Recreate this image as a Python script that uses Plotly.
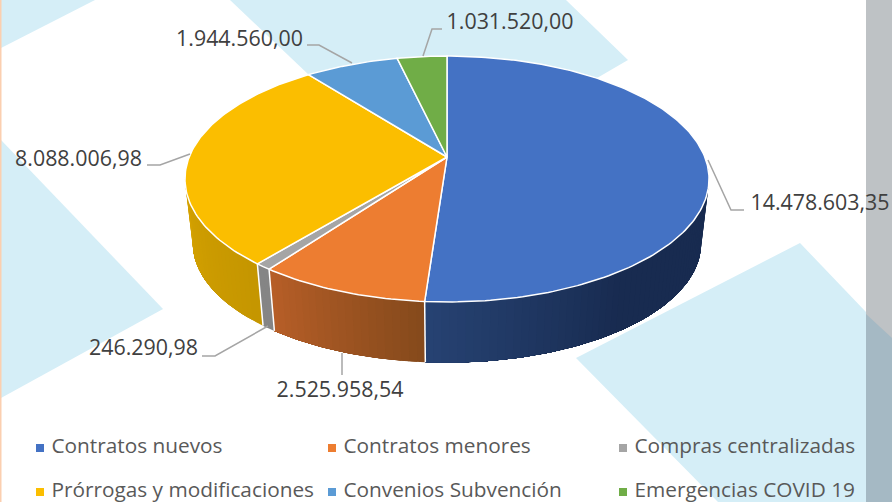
import numpy as np
import plotly.graph_objects as go

categories = ["Contratos nuevos", "Contratos menores", "Compras centralizadas",
              "Prórrogas y modificaciones", "Convenios Subvención", "Emergencias COVID 19"]
values = [14478603.35, 2525958.54, 246290.98, 8088006.98, 1944560.00, 1031520.00]
value_labels = ["14.478.603,35", "2.525.958,54", "246.290,98", "8.088.006,98", "1.944.560,00", "1.031.520,00"]
top_colors = ["#4472C4", "#ED7D31", "#A5A5A5", "#FBBE00", "#5B9BD5", "#70AD47"]
side_left = ["#274373", "#B85F28", "#858585", "#D6A300"]
side_right = ["#182B50", "#854A1C", "#858585", "#C59600"]

CX, CY, RX, RY, K = 447.0, 157.0, 257.8, 119.0, 0.179
S_BOT, CY_BOT = 0.97, 222.0
WIDTH, HEIGHT = 892, 502

def top_pt(a):
    u, v = np.sin(a), np.cos(a)
    d = 1 + K * v
    return CX + RX * u / d, CY - RY * v / d

def bot_pt(a):
    u, v = np.sin(a), np.cos(a)
    d = 1 + K * v
    return CX + S_BOT * RX * u / d, CY_BOT - S_BOT * RY * v / d

total = sum(values)
edges = np.concatenate([[0], np.cumsum(values)]) / total * 2 * np.pi
fig = go.Figure()

def poly(x, y, fill, line=None, width=0):
    fig.add_trace(go.Scatter(x=list(x), y=list(y), mode="lines", fill="toself", fillcolor=fill,
                             line=dict(color=line or fill, width=width), hoverinfo="skip", showlegend=False))

def hex_rgb(c):
    return np.array([int(c[i:i + 2], 16) for i in (1, 3, 5)], dtype=float)

# background decoration
BG = "#D5EEF7"
for pts in [[(1, 0), (95, 0), (1, 48)],
            [(230, 0), (566, 0), (628, 60), (430, 175), (330, 95)],
            [(1, 140), (163, 309), (1, 398)],
            [(576, 358), (800, 243), (866, 312), (866, 502), (718, 502)]]:
    poly([p[0] for p in pts] + [pts[0][0]], [p[1] for p in pts] + [pts[0][1]], BG)
poly([866, 892, 892, 866, 866], [0, 0, 502, 502, 0], "#BEC2C5")
poly([866, 892, 892, 866, 866], [314, 338, 502, 502, 314], "#A5B9C4")
poly([0, 1.5, 1.5, 0, 0], [0, 0, 502, 502, 0], "#FBCFB0")

# side walls: each wall is painted as overlapping layers for the shading
vis_lo, vis_hi = np.radians(92), np.radians(262)
for i in range(4):
    a0, a1 = max(edges[i], vis_lo), min(edges[i + 1], vis_hi)
    n = max(1, int(np.degrees(a1 - a0) / 1.5))
    br = np.linspace(a0, a1, n + 1)
    cl, cr = hex_rgb(side_left[i]), hex_rgb(side_right[i])
    for j in range(n):
        t = (br[j] + br[j + 1]) / 2
        if i == 0:
            f = np.clip((edges[1] - t) / np.radians(40), 0, 1)
            col = cl * (1 - f) + cr * f
        else:
            f = (t - a0) / (a1 - a0)
            col = cr * (1 - f) + cl * f
        aa = np.linspace(br[j], a1, max(3, int(np.degrees(a1 - br[j])) + 2))
        tx, ty = top_pt(aa)
        bx, by = bot_pt(aa[::-1])
        c = "rgb(%d,%d,%d)" % tuple(col)
        poly(list(tx) + list(bx) + [tx[0]], list(ty) + list(by) + [ty[0]], c)
for i in range(3):
    tx, ty = top_pt(edges[i + 1]); bx, by = bot_pt(edges[i + 1])
    fig.add_trace(go.Scatter(x=[tx, bx], y=[ty, by], mode="lines", line=dict(color="white", width=1.5),
                             hoverinfo="skip", showlegend=False))

# top slices
for i, c in enumerate(top_colors):
    aa = np.linspace(edges[i], edges[i + 1], max(3, int(np.degrees(edges[i + 1] - edges[i]))))
    x, y = top_pt(aa)
    poly([CX] + list(x) + [CX], [CY] + list(y) + [CY], c, "white", 1.5)

# leader lines and value labels
leaders = [[(708, 160), (731, 210), (744, 210)],
           [(342, 353), (342, 375)],
           [(268, 326), (215, 356), (202, 356)],
           [(190, 154), (160, 165), (147, 165)],
           [(352, 63), (319, 45), (307, 45)],
           [(423, 56), (432, 29), (442, 29)]]
label_pos = [(820, 205), (340, 392), (143.5, 350), (78.5, 160.5), (239.5, 40.5), (510, 23.5)]
for pts in leaders:
    fig.add_trace(go.Scatter(x=[p[0] for p in pts], y=[p[1] for p in pts], mode="lines",
                             line=dict(color="#A5A5A5", width=1.5), hoverinfo="skip", showlegend=False))
fig.add_trace(go.Scatter(x=[p[0] for p in label_pos], y=[p[1] for p in label_pos], mode="text",
                         text=value_labels, textposition="middle center",
                         textfont=dict(family="Open Sans", size=21.4, color="#404040"),
                         hoverinfo="skip", showlegend=False))

# legend
leg_x = [40, 332, 623]
leg_y = [448, 492]
for i, name in enumerate(categories):
    x, y = leg_x[i % 3], leg_y[i // 3]
    fig.add_trace(go.Scatter(x=[x], y=[y], mode="markers+text", text=[" " + name], textposition="middle right",
                             marker=dict(symbol="square", size=8, color=top_colors[i]),
                             textfont=dict(family="Open Sans", size=20.8, color="#595959"),
                             hoverinfo="skip", showlegend=False))

fig.update_layout(width=WIDTH, height=HEIGHT, margin=dict(l=0, r=0, t=0, b=0),
                  plot_bgcolor="white", paper_bgcolor="white", showlegend=False,
                  xaxis=dict(range=[0, WIDTH], visible=False, fixedrange=True),
                  yaxis=dict(range=[HEIGHT, 0], visible=False, fixedrange=True))
fig.write_html("out.html", config=dict(displayModeBar=False),
               post_script="document.body.style.margin='0';document.body.style.overflow='hidden';")
